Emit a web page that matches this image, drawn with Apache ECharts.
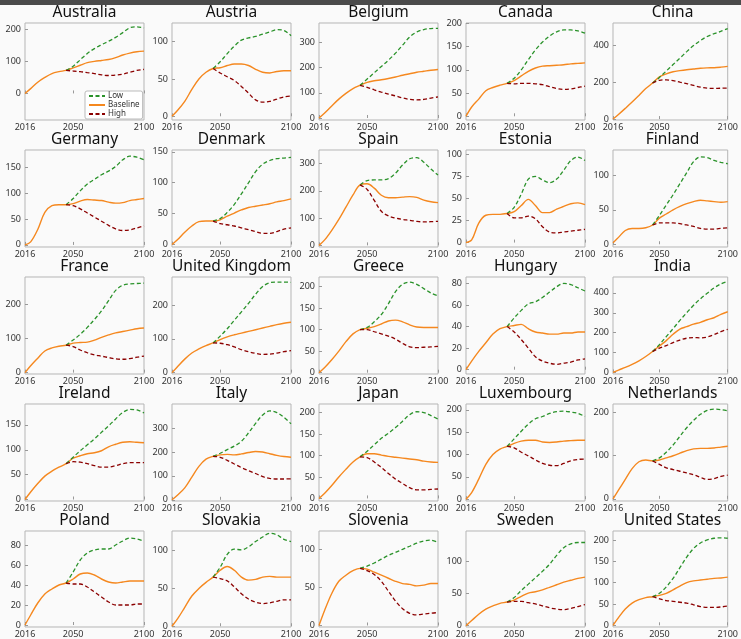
<!DOCTYPE html>
<html>
<head>
<meta charset="utf-8">
<script src="https://cdn.jsdelivr.net/npm/echarts@6/dist/echarts.min.js"></script>
<style>
html,body{margin:0;padding:0;background:#fafafa;}
#chart{width:741px;height:639px;}
</style>
</head>
<body>
<div id="chart"></div>
<script>
const countries = ["Australia","Austria","Belgium","Canada","China",
  "Germany","Denmark","Spain","Estonia","Finland",
  "France","United Kingdom","Greece","Hungary","India",
  "Ireland","Italy","Japan","Luxembourg","Netherlands",
  "Poland","Slovakia","Slovenia","Sweden","United States"];

const years = [2016,2020,2025,2030,2035,2040,2045,2050,2055,2060,2065,2070,2075,2080,2085,2090,2095,2100];
const scenarioYears = [2045,2050,2055,2060,2065,2070,2075,2080,2085,2090,2095,2100];
const xTickLabels = [2016, 2050, 2100];
const seriesNames = ["Low", "Baseline", "High"];

const baselineValues = [
  [0,15,35,50,62,68,72,80,88,96,100,103,106,112,120,126,130,132],
  [0,8,20,36,50,59,64,65,68,70,70,68,63,59,58,60,61,61],
  [0,20,48,75,98,117,130,142,148,152,157,163,170,176,182,186,190,193],
  [0,20,37,55,62,67,71,77,87,97,104,108,109,110,111,113,114,115],
  [0,25,58,92,128,165,195,228,245,256,262,267,271,275,277,278,281,285],
  [0,6,30,63,76,78,78,80,85,88,87,86,83,81,82,86,88,90],
  [0,8,20,30,37,38,38,40,46,51,56,60,62,64,66,69,71,74],
  [0,20,55,95,140,185,222,226,210,184,175,175,177,179,176,166,160,157],
  [0,3,22,31,32,32,33,35,42,49,42,34,34,38,41,44,45,43],
  [2,10,20,23,23,24,28,38,44,50,55,59,62,64,63,62,61,62],
  [0,20,42,63,72,77,80,86,88,89,95,103,110,116,120,124,128,130],
  [0,18,40,58,70,80,88,98,106,112,117,122,127,132,137,142,146,149],
  [0,12,30,50,72,90,100,103,107,113,120,122,118,111,106,105,105,105],
  [0,8,17,25,33,38,40,41,42,38,35,34,33,33,34,34,35,35],
  [0,12,25,40,58,80,105,133,160,192,218,230,243,252,265,275,292,305],
  [0,15,32,47,57,65,72,83,88,92,94,98,106,111,115,116,115,114],
  [0,20,50,95,140,170,182,188,190,188,192,198,202,200,193,186,181,178],
  [0,12,30,50,68,85,97,104,104,101,98,96,94,92,90,87,85,84],
  [0,15,45,78,100,112,118,125,130,132,132,128,127,128,130,131,132,132],
  [0,20,45,70,86,90,88,90,95,100,106,112,116,117,117,118,120,122],
  [0,10,22,31,36,40,42,46,51,52,50,46,43,42,43,44,44,44],
  [0,10,25,40,50,58,65,74,79,74,65,61,62,65,66,65,65,65],
  [0,20,42,58,66,72,75,74,70,66,62,58,55,54,52,53,55,55],
  [0,8,18,26,31,35,37,40,46,51,53,56,60,64,68,71,74,76],
  [0,18,38,52,60,65,67,70,75,83,92,100,104,106,108,110,111,113]
];

const lowValues = [
  [72,85,105,125,140,152,163,175,190,205,208,205],
  [64,73,84,94,102,105,107,110,113,116,115,108],
  [130,155,180,205,230,258,290,322,342,352,356,357],
  [71,82,100,122,143,160,173,182,186,186,184,179],
  [195,225,260,295,330,365,398,425,447,462,475,490],
  [78,90,105,118,127,136,143,152,165,172,170,165],
  [38,42,52,65,82,100,118,130,136,139,140,141],
  [222,238,240,240,245,265,295,318,322,305,280,258],
  [33,40,55,72,75,71,68,72,82,93,97,93],
  [28,42,57,72,88,104,120,127,126,122,119,117],
  [80,95,112,132,155,180,210,240,255,259,260,261],
  [88,108,130,155,180,205,232,255,266,268,268,267],
  [100,105,118,135,160,188,205,210,205,195,185,178],
  [40,48,55,61,63,67,72,77,80,79,76,73],
  [105,140,180,220,262,300,338,370,398,425,445,458],
  [72,85,98,110,122,135,148,162,175,181,180,174],
  [182,195,210,225,245,280,320,355,372,365,345,318],
  [97,110,125,140,152,165,180,195,202,200,193,185],
  [118,135,152,168,180,185,192,196,197,195,192,185],
  [88,95,108,125,145,165,182,196,205,208,207,204],
  [42,53,65,72,75,76,76,80,84,87,86,84],
  [65,78,95,102,101,105,112,118,123,121,115,112],
  [75,78,82,87,92,96,100,104,108,111,112,109],
  [37,44,55,65,75,85,96,110,122,128,130,130],
  [67,75,90,110,135,160,180,193,200,204,205,204]
];

const highValues = [
  [72,70,68,65,62,58,56,57,60,66,72,75],
  [64,58,53,48,40,31,22,19,20,23,26,27],
  [130,122,112,103,95,88,80,74,72,74,79,84],
  [71,70,71,71,70,68,64,60,58,59,62,65],
  [195,210,212,208,200,192,182,173,167,166,167,168],
  [78,76,70,62,54,46,38,31,28,29,33,37],
  [38,34,32,30,27,24,21,18,18,21,25,27],
  [222,205,165,125,108,100,95,92,88,86,87,88],
  [33,28,28,30,27,18,12,11,12,13,14,15],
  [28,31,31,31,30,28,26,23,22,22,23,24],
  [80,76,66,58,52,48,44,40,39,41,45,48],
  [88,87,83,76,68,62,57,54,55,58,62,65],
  [100,100,95,90,85,78,68,60,58,59,60,61],
  [40,35,28,20,12,8,6,5,6,7,9,10],
  [105,122,135,150,163,172,175,174,178,190,205,217],
  [72,76,75,72,68,65,65,68,72,74,74,74],
  [182,178,165,150,135,122,110,97,90,87,87,88],
  [97,95,85,72,58,45,35,25,20,20,21,22],
  [118,115,105,97,88,80,76,75,80,86,89,90],
  [88,80,72,68,64,60,56,50,45,47,52,55],
  [42,41,41,38,33,28,23,20,20,20,21,21],
  [65,63,60,52,43,36,32,30,31,33,35,35],
  [75,72,67,58,45,32,22,16,14,15,16,17],
  [37,38,38,36,34,31,28,26,25,27,30,33],
  [67,62,58,56,54,52,48,44,42,42,43,45]
];

const yTickLabels = [
  [0,100,200],[0,50,100],[0,100,200,300],[0,50,100,150,200],[0,200,400],
  [0,50,100,150],[0,50,100,150],[0,100,200,300],[0,25,50,75,100],[0,50,100],
  [0,100,200],[0,100,200],[0,50,100,150,200],[0,20,40,60,80],[0,100,200,300,400],
  [0,50,100,150],[0,100,200,300],[0,50,100,150,200],[0,50,100,150,200],[0,100,200],
  [0,20,40,60,80],[0,50,100],[0,50,100],[0,50,100],[0,50,100,150,200]
];
const yMin = [-83,-5,-8,-8,-5, -4,-4,-6,-5,-4, -4,-4,-3,-4,-8, -3,-5,-6,-4,-5, -2,-1,-2,-2,-4];
const yMax = [220,125,378,201,520, 184,153,350,105,137, 279,283,222,86,480, 192,401,220,213,220, 94,126,124,148,221];

// layout
const colLeft = [25,172,319,466,613];
const rowTop = [23,150,277,404,531];
const plotW = 119, plotH = 97;
const COLORS = {Low:'#2a922a', Baseline:'#f5881f', High:'#8b0000'};
const FONT = '"Noto Sans", "Open Sans", sans-serif';
const plainNum = v => String(v);

const grids = [], xAxes = [], yAxes = [], titles = [], series = [];
countries.forEach((name, i) => {
  const r = Math.floor(i / 5), c = i % 5;
  grids.push({left: colLeft[c], top: rowTop[r], width: plotW, height: plotH,
    show: true, borderColor: '#b5b5b5', borderWidth: 1, backgroundColor: 'transparent'});
  xAxes.push({type: 'value', gridIndex: i, min: 2016, max: 2100,
    axisLine: {show: false}, splitLine: {show: false},
    axisTick: {show: true, inside: true, length: 3, lineStyle: {color: '#999'}, customValues: xTickLabels},
    axisLabel: {color: '#333', fontSize: 9, fontFamily: FONT, margin: 3, customValues: xTickLabels,
      formatter: plainNum, showMinLabel: true, showMaxLabel: true, hideOverlap: false}});
  yAxes.push({type: 'value', gridIndex: i, min: yMin[i], max: yMax[i],
    axisLine: {show: false}, splitLine: {show: false},
    axisTick: {show: true, inside: true, length: 3, lineStyle: {color: '#999'}, customValues: yTickLabels[i]},
    axisLabel: {color: '#333', fontSize: 9, fontFamily: FONT, margin: 4, formatter: plainNum,
      customValues: yTickLabels[i]}});
  titles.push({text: name, left: colLeft[c] + plotW / 2, top: rowTop[r] - 18, textAlign: 'center',
    padding: 0,
    textStyle: {fontSize: 15.5, fontWeight: 'normal', color: '#111', fontFamily: FONT}});
  const base = years.map((y, k) => [y, baselineValues[i][k]]);
  const low = scenarioYears.map((y, k) => [y, lowValues[i][k]]);
  const high = scenarioYears.map((y, k) => [y, highValues[i][k]]);
  series.push({name: 'Low', type: 'line', xAxisIndex: i, yAxisIndex: i, data: low, smooth: 0.35,
    symbol: 'none', z: 3, lineStyle: {color: COLORS.Low, width: 1.3, type: [4, 2.5]}, itemStyle: {color: COLORS.Low}});
  series.push({name: 'Baseline', type: 'line', xAxisIndex: i, yAxisIndex: i, data: base, smooth: 0.35,
    symbol: 'none', z: 2, lineStyle: {color: COLORS.Baseline, width: 1.4}, itemStyle: {color: COLORS.Baseline}});
  series.push({name: 'High', type: 'line', xAxisIndex: i, yAxisIndex: i, data: high, smooth: 0.35,
    symbol: 'none', z: 3, lineStyle: {color: COLORS.High, width: 1.3, type: [4, 2.5]}, itemStyle: {color: COLORS.High}});
});

const chart = echarts.init(document.getElementById('chart'), null, {renderer: 'canvas'});
chart.setOption({
  backgroundColor: '#fafafa',
  animation: false,
  title: titles,
  grid: grids,
  xAxis: xAxes,
  yAxis: yAxes,
  legend: {data: seriesNames, orient: 'vertical', left: 85, top: 91, itemGap: 1,
    itemWidth: 16, itemHeight: 6, padding: [1, 3], borderColor: '#bbb', borderWidth: 1, borderRadius: 2,
    backgroundColor: 'rgba(255,255,255,0.85)',
    itemStyle: {color: 'transparent', borderColor: 'transparent', borderWidth: 0},
    textStyle: {fontSize: 8, color: '#333', fontFamily: FONT, padding: [0, 0, 0, -2]}},
  graphic: [{type: 'rect', left: 0, top: 0, shape: {width: 741, height: 5}, style: {fill: '#4b4b4b'}, z: 100}],
  series: series
});
</script>
</body>
</html>
